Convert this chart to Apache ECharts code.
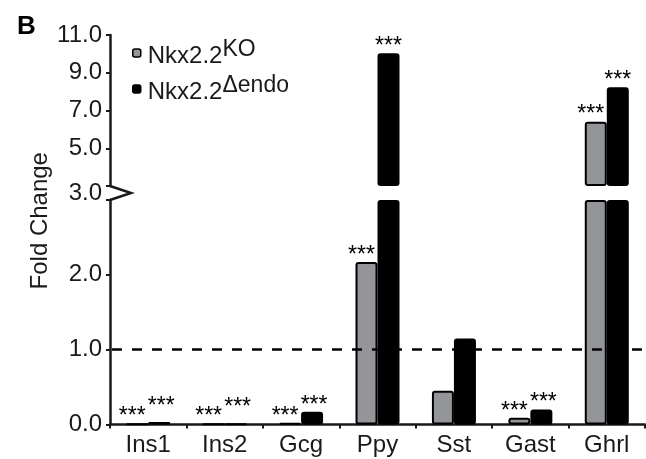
<!DOCTYPE html>
<html>
<head>
<meta charset="utf-8">
<script src="https://cdn.jsdelivr.net/npm/echarts@6/dist/echarts.min.js"></script>
<style>
html,body{margin:0;padding:0;background:#fff;}
#chart{width:646px;height:459px;}
</style>
</head>
<body>
<div id="chart"></div>
<script>
// ---- data ----
const categories = ['Ins1', 'Ins2', 'Gcg', 'Ppy', 'Sst', 'Gast', 'Ghrl'];
const koValues = [0.005, 0.005, 0.02, 2.17, 0.45, 0.09, 6.41];
const endoValues = [0.035, 0.01, 0.17, 10.03, 1.15, 0.2, 8.23];
const koSignificant = [true, true, true, true, false, true, true];
const endoSignificant = [true, true, true, true, false, true, true];
const lowerAxisRange = [0, 3, 1];   // min, max, interval
const upperAxisRange = [3, 11, 2];  // min, max, interval
const referenceLevel = 1.0;
const seriesNames = ['Nkx2.2KO', 'Nkx2.2Δendo'];
const legendLabels = {'Nkx2.2KO': ['Nkx2.2', 'KO'], 'Nkx2.2Δendo': ['Nkx2.2', 'Δendo']};

// ---- style ----
const FONT = 'Liberation Sans, Arial, Helvetica, sans-serif';
const INK = '#1a1a1a';
const GRAY = '#939598';
const FS = 24;
const BREAK = lowerAxisRange[1];
const GRID_LEFT = 110;

const chart = echarts.init(document.getElementById('chart'), null, {renderer: 'canvas'});

function lowerData(vals) { return vals.map(v => Math.min(v, BREAK)); }
function upperData(vals) { return vals.map(v => (v > BREAK ? v : null)); }

// star labels; tiny endo bars get their stars lifted so they don't collide with the KO stars
function starItems(data, vals, sig, upper, dx, liftTiny) {
  return data.map((d, i) => {
    if (d === null) return null;
    const inPart = upper ? vals[i] > BREAK : vals[i] <= BREAK;
    const show = sig[i] && inPart;
    const lift = (liftTiny && vals[i] < 0.1) ? -9 : 0;
    return {
      value: d,
      label: {
        show: show,
        position: 'top',
        distance: 0,
        offset: [dx, 5 + lift],
        fontFamily: FONT,
        fontSize: 23,
        color: '#000',
        formatter: '***'
      }
    };
  });
}

const barCommon = {type: 'bar', barWidth: 22, barGap: '0%', animation: false};
const axisLineStyle = {color: INK, width: 2.5};
const tickStyle = {show: true, length: 4, lineStyle: {color: INK, width: 2}};

const option = {
  animation: false,
  title: {
    text: 'B', left: 12, top: 9,
    textStyle: {fontFamily: FONT, fontSize: 26, fontWeight: 'bold', color: '#000'}
  },
  legend: {
    data: seriesNames,
    orient: 'vertical',
    left: 127,
    top: 33,
    itemWidth: 8,
    itemHeight: 8,
    itemGap: 6,
    itemStyle: {borderWidth: 1.5, borderColor: '#000'},
    formatter: name => '{a|' + legendLabels[name][0] + '}{s|' + legendLabels[name][1] + '}',
    textStyle: {
      fontFamily: FONT, fontSize: FS, color: INK, padding: [0, 0, 0, 2],
      rich: {
        a: {fontFamily: FONT, fontSize: FS, color: INK, lineHeight: 30, verticalAlign: 'bottom'},
        s: {fontFamily: FONT, fontSize: 23, color: INK, lineHeight: 23, verticalAlign: 'top'}
      }
    }
  },
  grid: [
    {left: GRID_LEFT, right: 1, top: 35, height: 151},
    {left: GRID_LEFT, right: 1, top: 200, height: 224.5}
  ],
  xAxis: [
    {type: 'category', gridIndex: 0, data: categories, show: false},
    {
      type: 'category', gridIndex: 1, data: categories,
      axisLine: {lineStyle: axisLineStyle},
      axisTick: tickStyle,
      axisLabel: {fontFamily: FONT, fontSize: FS, color: INK, margin: 9}
    }
  ],
  yAxis: [
    {
      type: 'value', gridIndex: 0,
      min: upperAxisRange[0], max: upperAxisRange[1], interval: upperAxisRange[2],
      startValue: upperAxisRange[0],
      splitLine: {show: false},
      axisLine: {show: true, lineStyle: axisLineStyle},
      axisTick: tickStyle,
      axisLabel: {
        fontFamily: FONT, fontSize: FS, color: INK, margin: 8,
        formatter: v => (v === BREAK ? '{d|' + v.toFixed(1) + '}' : v.toFixed(1)),
        rich: {d: {fontFamily: FONT, fontSize: FS, color: INK, padding: [14, 0, 0, 0]}}
      }
    },
    {
      type: 'value', gridIndex: 1,
      min: lowerAxisRange[0], max: lowerAxisRange[1], interval: lowerAxisRange[2],
      splitLine: {show: false},
      axisLine: {show: true, lineStyle: axisLineStyle},
      axisTick: tickStyle,
      axisLabel: {
        fontFamily: FONT, fontSize: FS, color: INK, margin: 8,
        formatter: v => (v === BREAK ? '' : v.toFixed(1))
      }
    }
  ],
  series: [
    Object.assign({}, barCommon, {
      name: seriesNames[0], xAxisIndex: 1, yAxisIndex: 1,
      data: starItems(lowerData(koValues), koValues, koSignificant, false, -5, false),
      itemStyle: {color: GRAY, borderColor: '#000', borderWidth: 2, borderRadius: 2},
      markLine: {
        silent: true, symbol: 'none', animation: false,
        label: {show: false},
        lineStyle: {color: '#000', width: 2.5, type: [10, 10], dashOffset: 18},
        data: [{yAxis: referenceLevel}]
      }
    }),
    Object.assign({}, barCommon, {
      name: seriesNames[1], xAxisIndex: 1, yAxisIndex: 1,
      data: starItems(lowerData(endoValues), endoValues, endoSignificant, false, 2, true),
      itemStyle: {color: '#000', borderColor: '#000', borderWidth: 2, borderRadius: 2}
    }),
    Object.assign({}, barCommon, {
      name: seriesNames[0], xAxisIndex: 0, yAxisIndex: 0,
      data: starItems(upperData(koValues), koValues, koSignificant, true, -5, false),
      itemStyle: {color: GRAY, borderColor: '#000', borderWidth: 2, borderRadius: 2}
    }),
    Object.assign({}, barCommon, {
      name: seriesNames[1], xAxisIndex: 0, yAxisIndex: 0,
      data: starItems(upperData(endoValues), endoValues, endoSignificant, true, 0, false),
      itemStyle: {color: '#000', borderColor: '#000', borderWidth: 2, borderRadius: 2}
    })
  ]
};

chart.setOption(option);

// axis-break chevron and y-axis title, positioned from the axes
const yUp = chart.convertToPixel({yAxisIndex: 0}, BREAK);
const yLow = chart.convertToPixel({yAxisIndex: 1}, BREAK);
const yTop = chart.convertToPixel({yAxisIndex: 0}, upperAxisRange[1]);
const yBottom = chart.convertToPixel({yAxisIndex: 1}, lowerAxisRange[0]);
chart.setOption({
  graphic: [
    {
      type: 'polyline',
      shape: {points: [[GRID_LEFT, yUp], [GRID_LEFT + 21, (yUp + yLow) / 2], [GRID_LEFT, yLow]]},
      style: {stroke: INK, lineWidth: 2.5, fill: null, lineJoin: 'miter'},
      silent: true
    },
    {
      type: 'text',
      x: 40, y: (yTop + yBottom) / 2 - 9,
      rotation: Math.PI / 2,
      style: {
        text: 'Fold Change', fontFamily: FONT, fontSize: FS, fill: INK,
        align: 'center', verticalAlign: 'middle'
      },
      silent: true
    }
  ]
});
</script>
</body>
</html>
